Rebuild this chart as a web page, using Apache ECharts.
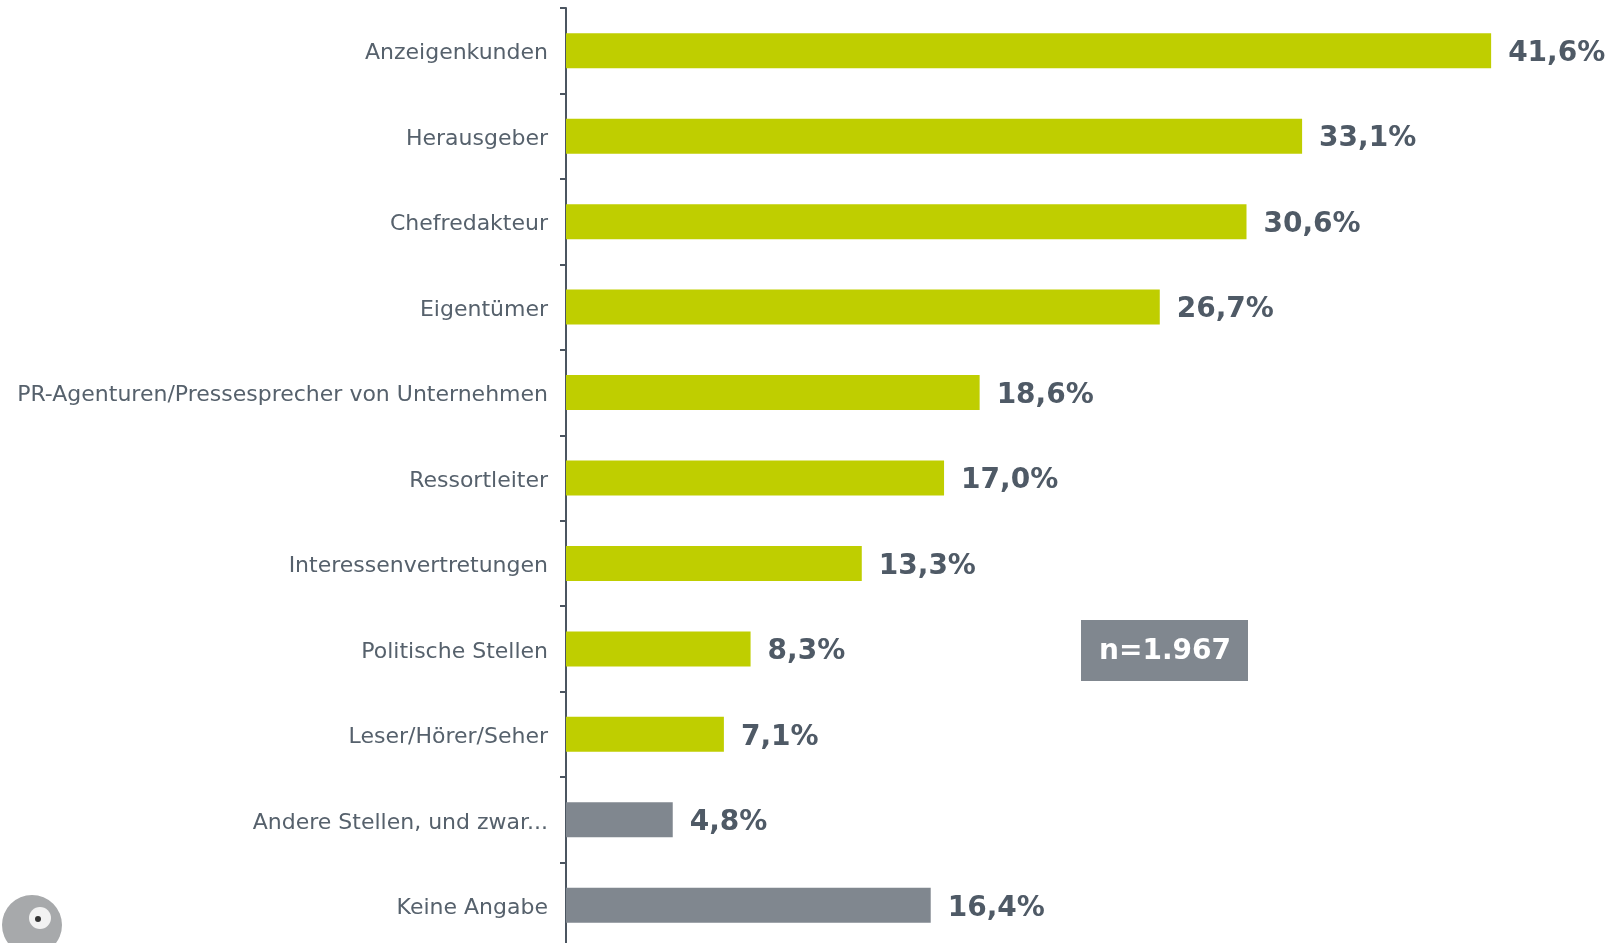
<!DOCTYPE html>
<html>
<head>
<meta charset="utf-8">
<script src="https://cdn.jsdelivr.net/npm/echarts@6/dist/echarts.min.js"></script>
<style>
  html, body { margin: 0; padding: 0; background: #fff; }
  #chart { width: 1619px; height: 943px; }
</style>
</head>
<body>
<div id="chart"></div>
<script>
// Kategorien und Werte (in %)
const categories = [
  'Anzeigenkunden', 'Herausgeber', 'Chefredakteur', 'Eigentümer',
  'PR-Agenturen/Pressesprecher von Unternehmen', 'Ressortleiter',
  'Interessenvertretungen', 'Politische Stellen', 'Leser/Hörer/Seher',
  'Andere Stellen, und zwar...', 'Keine Angabe'
]
const values = [41.6, 33.1, 30.6, 26.7, 18.6, 17.0, 13.3, 8.3, 7.1, 4.8, 16.4]
const greyItems = ['Andere Stellen, und zwar...', 'Keine Angabe']
const sampleText = 'n=1.967'

const GREEN = '#bfce00'
const GREY = '#80878f'
const TEXT = '#56616c'

const c = echarts.init(document.getElementById('chart'))
c.setOption({
  animation: false,
  grid: { left: 566, width: 1053, top: 8, height: 940, containLabel: false, outerBoundsMode: 'none' },
  xAxis: { type: 'value', min: 0, max: 47.35, show: false },
  yAxis: {
    type: 'category', inverse: true, data: categories,
    axisLine: { lineStyle: { color: '#4b5560', width: 2 } },
    axisTick: { show: true, length: 6, lineStyle: { color: '#4b5560', width: 2 } },
    axisLabel: {
      margin: 18,
      formatter: v => '{t|' + v + '}',
      rich: { t: { color: TEXT, fontSize: 22, fontFamily: 'DejaVu Sans', padding: [6, 0, 0, 0] } },
    },
  },
  series: [{
    type: 'bar', barWidth: 35,
    data: values.map((v, i) => ({
      value: v,
      itemStyle: { color: greyItems.includes(categories[i]) ? GREY : GREEN },
    })),
    label: {
      show: true, position: 'right', distance: 17, offset: [0, 3],
      color: '#4f5a66', fontSize: 28, fontWeight: 'bold', fontFamily: 'DejaVu Sans',
      formatter: p => p.value.toFixed(1).replace('.', ',') + '%',
    },
  }],
  graphic: [
    { type: 'rect', x: 1081, y: 620, shape: { width: 167, height: 61 }, style: { fill: GREY } },
    { type: 'text', x: 1165, y: 652, style: { text: sampleText, fill: '#fff', fontSize: 28, fontWeight: 'bold', fontFamily: 'DejaVu Sans', align: 'center', verticalAlign: 'middle' } },
    // kleines Maskottchen unten links (nur angedeutet)
    { type: 'circle', shape: { cx: 32, cy: 925, r: 30 }, style: { fill: '#a7a9ab' } },
    { type: 'circle', shape: { cx: 40, cy: 918, r: 11 }, style: { fill: '#f2f2f2' } },
    { type: 'circle', shape: { cx: 38, cy: 919, r: 3 }, style: { fill: '#333' } },
  ],
})
</script>
</body>
</html>
